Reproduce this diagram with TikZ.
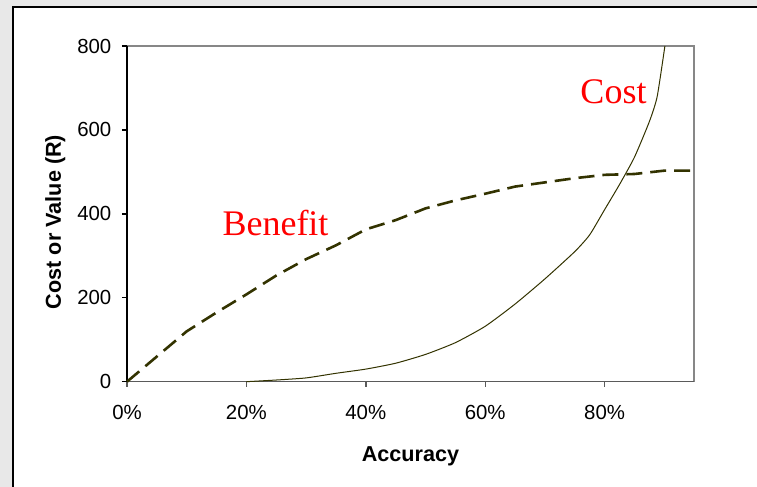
\documentclass[tikz,border=0pt]{standalone}
\usepackage{fontspec}
\setmainfont{Liberation Serif}
\setsansfont{Liberation Sans}
\usetikzlibrary{arrows}

\definecolor{curvecol}{RGB}{51,51,0}
\definecolor{axisgray}{RGB}{90,90,90}
\definecolor{bordergray}{RGB}{135,135,135}
\definecolor{framefill}{RGB}{232,232,232}

\begin{document}
\begin{tikzpicture}[x=0.5pt,y=0.5pt,
                    ticklab/.style={font=\sffamily\fontsize{10.2}{12}\selectfont,inner sep=0pt},
                    axtitle/.style={font=\sffamily\bfseries\fontsize{10.8}{13}\selectfont,inner sep=0pt},
                    curvelab/.style={font=\fontsize{18}{21}\selectfont,text=red,inner sep=0pt},
                    benefit/.style={curvecol,line width=1.3pt,dash pattern=on 8pt off 4pt},
                    cost/.style={curvecol,line width=0.5pt}]

  \useasboundingbox (0,0) rectangle (757,487);

  % frame round the chart
  \fill[framefill] (0,0) rectangle (12.7,487);
  \fill[framefill] (12.7,480.3) rectangle (757,487);
  \draw[line width=0.9pt] (12.7,0) -- (12.7,480.3) -- (757,480.3);

  % plot area
  \coordinate (o)  at (127,105.3);
  \coordinate (xe) at (694,105.3);
  \coordinate (ye) at (127,441);
  \coordinate (tr) at (694,441);

  \draw[bordergray,line width=0.7pt] (xe) -- (tr) -- (ye);
  \draw[axisgray,line width=0.8pt] (o) -- (xe);
  \draw[line width=0.7pt] (ye) -- (o);

  \begin{scope}[shift={(o)},x=2.985pt,y=0.2098pt]
    \foreach \v in {0,200,...,800}{
      \draw[line width=0.7pt] (-0.84,\v) -- (0,\v);
      \node[ticklab,anchor=east] (y\v) at (-2.56,\v) {\v};
    }
    \foreach \p in {0,20,...,80}{
      \draw[axisgray,line width=0.7pt] (\p,0) -- (\p,-11.9);
      \node[ticklab,anchor=base] (x\p) at (\p,-89.6) {\p\%};
    }

    % benefit
    \draw[benefit] plot coordinates {(0,0) (5,60) (10,120) (15,165) (20,208)
      (25,253) (30,292) (35,325) (40,363) (45,385) (50,413) (55,432) (60,448)
      (65,465) (70,475) (75,485) (80,493) (85,495) (90,503) (95,503)};

    % cost
    \draw[cost] plot[smooth,tension=0.35] coordinates {(20,0) (25,4) (30,9)
      (35,20) (40,30) (45,44) (50,65) (55,93) (60,132) (65,185) (70,245)
      (75,310) (77.5,350) (80,410) (82.5,470) (85,535) (87.5,620) (88.8,679)
      (90.1,800)};
  \end{scope}

  \node[axtitle,anchor=base] (acc) at (410.5,25.3) {Accuracy};
  \node[axtitle,anchor=base,rotate=90] (cv) at (61,265) {Cost or Value (R)};

  \node[curvelab,anchor=base] (ben) at (275.5,251) {Benefit};
  \node[curvelab,anchor=base] (cst) at (613.5,383.7) {Cost};

\end{tikzpicture}
\end{document}
